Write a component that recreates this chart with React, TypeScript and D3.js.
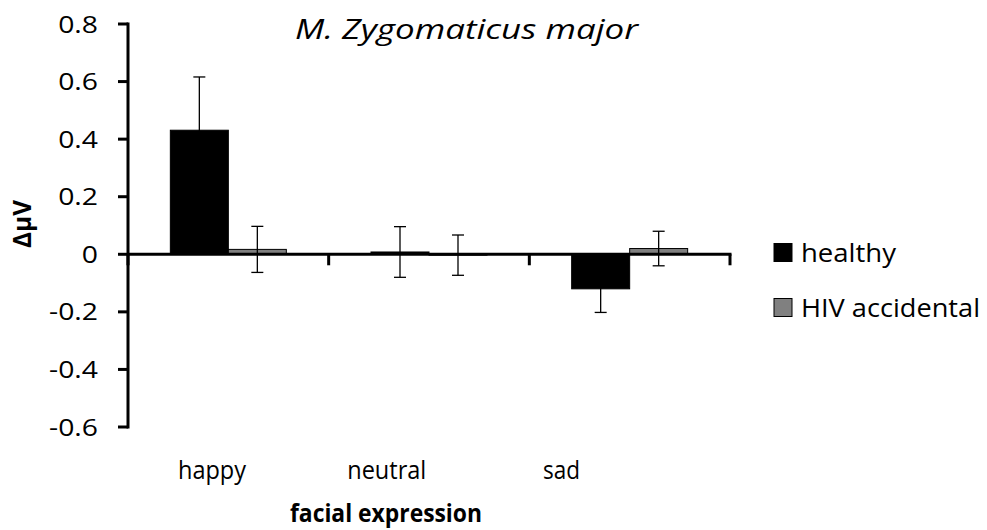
import React from "react";
import * as d3 from "d3";

const categories = ["happy", "neutral", "sad"];
const seriesNames = ["healthy", "HIV accidental"];
const seriesColors = ["#000000", "#808080"];
const healthyMeans = [0.431, 0.008, -0.12];
const healthyErrors = [0.185, 0.088, 0.082];
const hivMeans = [0.017, -0.003, 0.02];
const hivErrors = [0.08, 0.07, 0.06];
const yTicks = [0.8, 0.6, 0.4, 0.2, 0, -0.2, -0.4, -0.6];
const yTickLabels = ["0.8", "0.6", "0.4", "0.2", "0", "-0.2", "-0.4", "-0.6"];

const W = 987;
const H = 530;
const FONT = "'Open Sans', Lato, sans-serif";

const catLabelWidths: Record<string, number> = { happy: 68, neutral: 79, sad: 37 };
const legendWidths = [95, 179];

export default function App() {
  const x = d3.scaleBand<string>().domain(categories).range([128, 730]).paddingInner(0).paddingOuter(0);
  const y = d3.scaleLinear().domain([-0.6, 0.8]).range([427, 24]);
  const sub = d3
    .scaleBand<string>()
    .domain(seriesNames)
    .range([0, x.bandwidth()])
    .paddingInner(0)
    .paddingOuter(0.73);
  const labelX = d3.scalePoint<string>().domain(categories).range([212, 561.5]);

  const series = [
    { name: seriesNames[0], means: healthyMeans, errs: healthyErrors, color: seriesColors[0] },
    { name: seriesNames[1], means: hivMeans, errs: hivErrors, color: seriesColors[1] },
  ];
  const y0 = y(0);

  return (
    <svg width={W} height={H} style={{ display: "block", position: "absolute", left: 0, top: 0 }}>
      <rect width={W} height={H} fill="#fff" />
      {/* bars */}
      {series.map((s) =>
        categories.map((c, i) => {
          const bx = (x(c) as number) + (sub(s.name) as number);
          const v = s.means[i];
          const top = Math.min(y(v), y0);
          const h = Math.abs(y(v) - y0);
          return (
            <rect
              key={s.name + c}
              x={bx}
              y={top}
              width={sub.bandwidth()}
              height={h}
              fill={s.color}
              stroke="#000"
              strokeWidth={1}
            />
          );
        })
      )}
      {/* error bars */}
      {series.map((s) =>
        categories.map((c, i) => {
          const cx = (x(c) as number) + (sub(s.name) as number) + sub.bandwidth() / 2;
          const hi = y(s.means[i] + s.errs[i]);
          const lo = y(s.means[i] - s.errs[i]);
          return (
            <g key={"e" + s.name + c} stroke="#000" strokeWidth={1.3}>
              <line x1={cx} x2={cx} y1={hi} y2={lo} />
              <line x1={cx - 6} x2={cx + 6} y1={hi} y2={hi} />
              <line x1={cx - 6} x2={cx + 6} y1={lo} y2={lo} />
            </g>
          );
        })
      )}
      {/* y axis */}
      <line x1={128} x2={128} y1={y(0.8) - 1.5} y2={y(-0.6) + 1.5} stroke="#000" strokeWidth={3} />
      {yTicks.map((t, i) => (
        <g key={"yt" + i}>
          <line x1={118} x2={128} y1={y(t)} y2={y(t)} stroke="#000" strokeWidth={3} />
          <text
            transform={`translate(98,${y(t)}) scale(1.18,1)`}
            dy="0.357em"
            textAnchor="end"
            fontFamily={FONT}
            fontSize={24}
            fill="#000"
          >
            {yTickLabels[i]}
          </text>
        </g>
      ))}
      {/* x axis */}
      <line x1={128} x2={731.5} y1={y0} y2={y0} stroke="#000" strokeWidth={3} />
      {[...categories.map((c) => x(c) as number), 730].map((tx, i) => (
        <line key={"xt" + i} x1={tx} x2={tx} y1={y0} y2={y0 + 11} stroke="#000" strokeWidth={3} />
      ))}
      {categories.map((c) => (
        <text
          key={"xl" + c}
          x={(labelX(c) as number) - catLabelWidths[c] / 2}
          y={479}
          textLength={catLabelWidths[c]}
          lengthAdjust="spacingAndGlyphs"
          fontFamily={FONT}
          fontSize={25}
          fill="#000"
        >
          {c}
        </text>
      ))}
      <text
        x={386 - 96}
        y={522}
        textLength={192}
        lengthAdjust="spacingAndGlyphs"
        fontFamily={FONT}
        fontSize={25}
        fontWeight="bold"
        fill="#000"
      >
        facial expression
      </text>
      <text
        transform={`translate(31,${224}) rotate(-90)`}
        x={-24}
        textLength={48}
        lengthAdjust="spacingAndGlyphs"
        fontFamily={FONT}
        fontSize={25}
        fontWeight="bold"
        fill="#000"
      >
        ΔμV
      </text>
      <text
        x={295}
        y={39}
        textLength={343}
        lengthAdjust="spacingAndGlyphs"
        fontFamily={FONT}
        fontSize={27}
        fontStyle="italic"
        fill="#000"
      >
        M. Zygomaticus major
      </text>
      {/* legend */}
      {seriesNames.map((n, i) => (
        <g key={"lg" + n}>
          <rect x={774} y={243.5 + i * 55} width={18} height={18} fill={seriesColors[i]} stroke="#000" strokeWidth={1} />
          <text
            x={801}
            y={262 + i * 55}
            textLength={legendWidths[i]}
            lengthAdjust="spacingAndGlyphs"
            fontFamily={FONT}
            fontSize={25}
            fill="#000"
          >
            {n}
          </text>
        </g>
      ))}
    </svg>
  );
}
